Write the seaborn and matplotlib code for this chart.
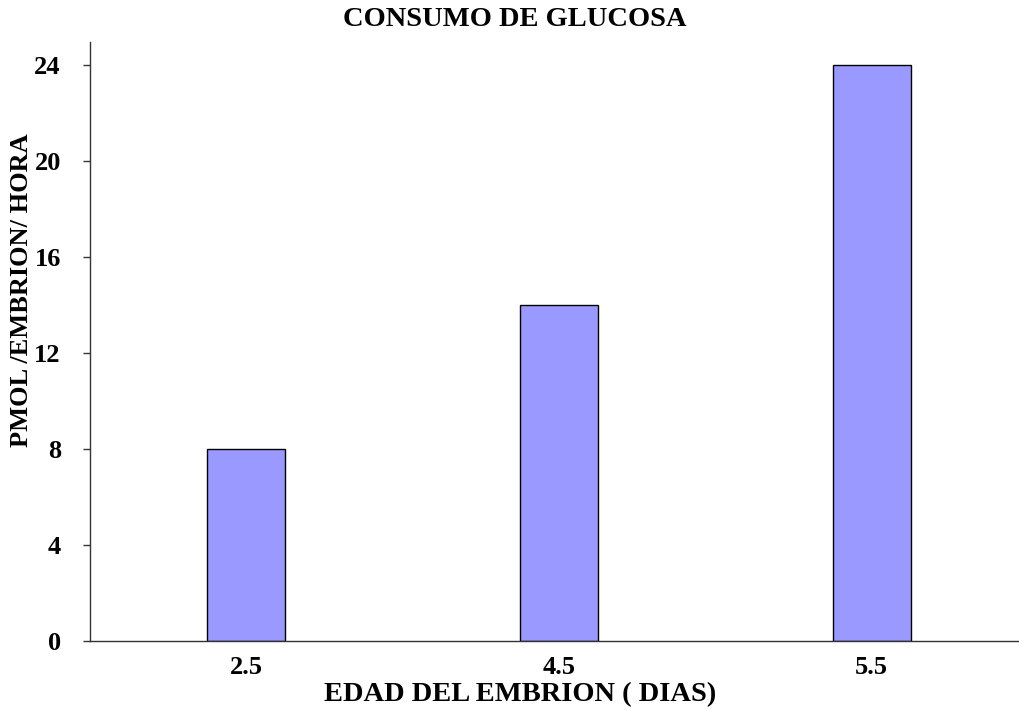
import matplotlib
matplotlib.use("Agg")
import matplotlib.pyplot as plt
import seaborn as sns
import pandas as pd

# Glucose consumption per embryo by embryo age
edad = ["2.5", "4.5", "5.5"]
consumo = [8, 14, 24]
yticks = [0, 4, 8, 12, 16, 20, 24]

sns.set_style("white")
plt.rcParams["font.family"] = ["Liberation Serif", "DejaVu Serif"]
plt.rcParams["text.color"] = "black"
plt.rcParams["xtick.color"] = "black"
plt.rcParams["ytick.color"] = "black"
plt.rcParams["axes.labelcolor"] = "black"

df = pd.DataFrame({"edad": edad, "consumo": consumo})

W, H = 1019, 710
fig = plt.figure(figsize=(W / 100, H / 100), dpi=100)
ax = fig.add_axes([90 / W, 69 / H, 938 / W, 599 / H])

sns.barplot(data=df, x="edad", y="consumo", width=0.25, color="#9999FF",
            saturation=1, edgecolor="black", linewidth=1.0, ax=ax)

ax.set_xlim(-0.5, 2.5)
ax.set_ylim(0, 24.96)
ax.set_yticks(yticks)
ax.set_yticklabels([str(t) for t in yticks], fontsize=19, fontweight="bold")
ax.set_xticks(range(len(edad)))
ax.set_xticklabels(edad, fontsize=19, fontweight="bold")
ax.set_xticks([-0.5, 0.5, 1.5, 2.5], minor=True)
ax.tick_params(axis="x", which="major", length=0, pad=11)
ax.tick_params(axis="x", which="minor", length=5, width=1, color="#333333", direction="out")
ax.tick_params(axis="y", which="major", length=5, width=1, color="#333333",
               direction="out", left=True, pad=16)

for side in ["top", "right"]:
    ax.spines[side].set_visible(False)
for side in ["left", "bottom"]:
    ax.spines[side].set_color("#333333")
    ax.spines[side].set_linewidth(1.0)

ax.set_xlabel("EDAD DEL EMBRION ( DIAS)", fontsize=20.5, fontweight="bold")
ax.xaxis.set_label_coords((520 - 90) / 938, (641 - 695) / 599)
ax.xaxis.label.set_verticalalignment("center")
ax.set_ylabel("PMOL /EMBRION/ HORA", fontsize=19, fontweight="bold")
ax.yaxis.set_label_coords((22 - 90) / 938, (641 - 290) / 599)
ax.yaxis.label.set_verticalalignment("center")

fig.text(515 / W, 1 - 19 / H, "CONSUMO DE GLUCOSA", ha="center", va="center",
         fontsize=20.5, fontweight="bold")

fig.savefig("out.png", dpi=100)
